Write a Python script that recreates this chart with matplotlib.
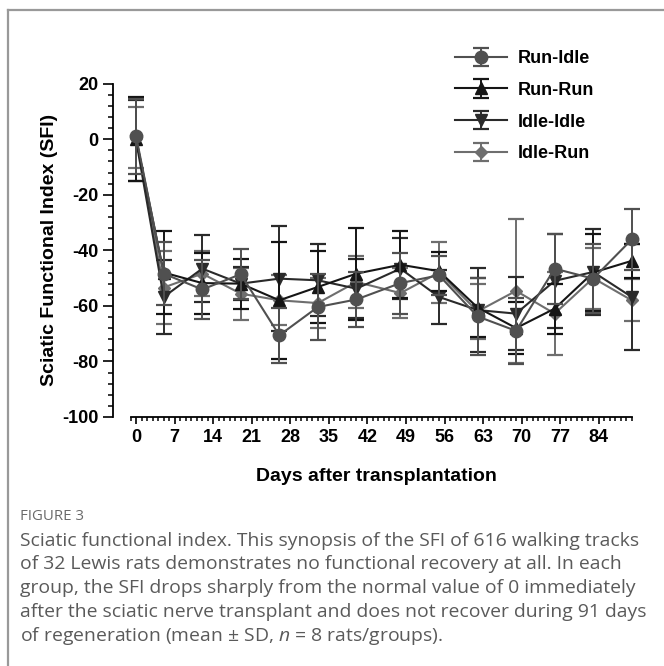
import numpy as np
import matplotlib
matplotlib.use("Agg")
import matplotlib.pyplot as plt
from matplotlib.lines import Line2D
from matplotlib.ticker import MultipleLocator, FixedLocator

# SFI means and SD
days = [0, 5, 12, 19, 26, 33, 40, 48, 55, 62, 69, 76, 83, 90]

run_idle = [1, -48.4, -54.1, -48.6, -70.6, -60.4, -57.7, -51.8, -49, -63.8, -69, -46.6, -50.2, -36.1]
run_idle_sd = [13.5, 11.4, 10.5, 9, 10, 12, 10, 11, 7, 14, 12, 12.6, 12.5, 11]
run_run = [0, -48, -51.8, -52, -58, -53.2, -48.4, -45.2, -47.5, -60.6, -68, -61, -48, -43.8]
run_run_sd = [15, 15, 11, 9, 21, 13, 16.6, 12, 7, 10.6, 9.5, 9, 14, 6]
idle_idle = [-0.5, -56.8, -46.6, -52, -50.2, -50.8, -53.8, -46.6, -56.8, -61.5, -62.8, -51, -47.8, -56.8]
idle_idle_sd = [14.5, 13.4, 12, 6, 19, 13, 10.5, 11, 9.6, 15, 13.2, 17, 15.6, 19]
idle_run = [0.5, -53.4, -48.4, -55.6, -58, -59, -51.4, -55.4, -48, -62, -54.6, -62.8, -50, -58]
idle_run_sd = [11, 13, 8, 9.4, 9, 9, 9.4, 9, 11, 10, 26, 15, 11, 7.5]

groups = ["Run-Idle", "Run-Run", "Idle-Idle", "Idle-Run"]
x_major = [0, 7, 14, 21, 28, 35, 42, 49, 56, 63, 70, 77, 84]

caption_head = "FIGURE 3"
caption_lines = [
    "Sciatic functional index. This synopsis of the SFI of 616 walking tracks",
    "of 32 Lewis rats demonstrates no functional recovery at all. In each",
    "group, the SFI drops sharply from the normal value of 0 immediately",
    "after the sciatic nerve transplant and does not recover during 91 days",
    r"of regeneration (mean $\pm$ SD, $n$ = 8 rats/groups).",
]

plt.rcParams['axes.unicode_minus'] = False
plt.rcParams['mathtext.fontset'] = 'custom'
plt.rcParams['mathtext.rm'] = 'Open Sans'
plt.rcParams['mathtext.it'] = 'Open Sans:italic'

fig = plt.figure(figsize=(6.64, 6.66), dpi=100)
W, H = 664, 666
ax = fig.add_axes([113 / W, 1 - 417 / H, 527 / W, 333.4 / H])

series = [
    (run_idle, run_idle_sd, "o", "#505050", 9, 4),
    (run_run, run_run_sd, "^", "#151515", 9, 3),
    (idle_idle, idle_idle_sd, "v", "#2a2a2a", 9, 2),
    (idle_run, idle_run_sd, "D", "#6e6e6e", 6.5, 1),
]
handles = []
for (vals, sd, mk, col, ms, z), name in zip(series, groups):
    h = ax.errorbar(days, vals, yerr=sd, fmt="-", marker=mk, color=col, ms=ms,
                    lw=1.5, elinewidth=1.4, capsize=6, capthick=1.6,
                    mec=col, mfc=col, zorder=z, clip_on=False, label=name)
    handles.append(h)

ax.set_xlim(-4.2, 91.5)
ax.set_ylim(-100, 20)

for s in ["top", "right"]:
    ax.spines[s].set_visible(False)
ax.spines["left"].set_bounds(-100, 20)
ax.spines["bottom"].set_bounds(-1, 90)
ax.spines["left"].set_linewidth(1.3)
ax.spines["bottom"].set_linewidth(1.3)

ax.yaxis.set_major_locator(MultipleLocator(20))
ax.yaxis.set_minor_locator(MultipleLocator(4))
ax.xaxis.set_major_locator(FixedLocator(x_major))
ax.xaxis.set_minor_locator(FixedLocator(np.arange(-1, 91)))
ax.tick_params(axis="y", which="major", length=7, width=1.2, direction="out")
ax.tick_params(axis="y", which="minor", length=3.8, width=1.1, direction="out")
ax.tick_params(axis="x", which="major", length=5, width=1.2, direction="out")
ax.tick_params(axis="x", which="minor", length=3, width=1.1, direction="out")

for lab in ax.get_xticklabels() + ax.get_yticklabels():
    lab.set_fontfamily("Liberation Sans")
    lab.set_fontweight("bold")
    lab.set_fontsize(13)
ax.set_xlabel("Days after transplantation", fontfamily="Liberation Sans",
              fontweight="bold", fontsize=14, labelpad=16)
ax.set_ylabel("Sciatic Functional Index (SFI)", fontfamily="Liberation Sans",
              fontweight="bold", fontsize=14, labelpad=3)

leg = fig.legend(handles=handles, labels=groups, loc="upper left",
                 bbox_to_anchor=(455 / W, 1 - 50 / H), frameon=False,
                 prop={"family": "Liberation Sans", "weight": "bold", "size": 13},
                 handlelength=2.9, handletextpad=0.6, labelspacing=0.82,
                 borderpad=0, borderaxespad=0)

# frame lines around the figure panel
fig.add_artist(Line2D([8 / W, 8 / W], [0, 1 - 10 / H], color="#999999", lw=1.6))
fig.add_artist(Line2D([8 / W, 1], [1 - 10 / H, 1 - 10 / H], color="#999999", lw=1.6))

fig.text(20 / W, 1 - 517 / H, caption_head, fontfamily="Open Sans", fontsize=10.8,
         color="#6a6a6a", va="center")
for i, line in enumerate(caption_lines):
    fig.text(20 / W, 1 - (540.5 + i * 23.8) / H, line, fontfamily="Open Sans",
             fontsize=13.95, color="#5a5a5a", va="center")

fig.savefig("out.png", dpi=100)
